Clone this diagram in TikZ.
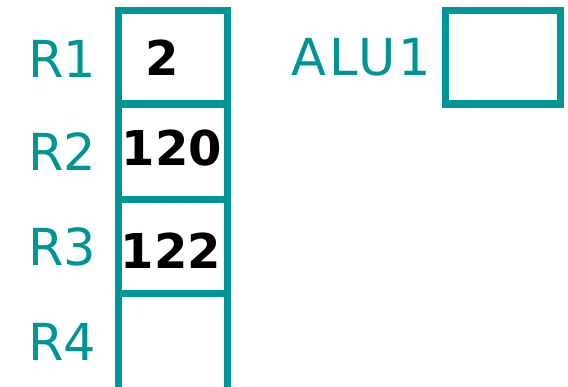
\documentclass[tikz,border=0pt]{standalone}
\usepackage{fontspec}
\setmainfont{DejaVu Sans}
\definecolor{teal1}{RGB}{0,148,148}
\tikzset{
  box/.style={draw=teal1, line width=7.5pt, line join=miter},
  reglabel/.style={anchor=base west, inner sep=0pt, text=teal1, font=\fontsize{51}{51}\selectfont},
  val/.style={anchor=base west, inner sep=0pt, text=black, font=\fontsize{48}{48}\bfseries\selectfont}
}
\begin{document}
\begin{tikzpicture}[x=1pt, y=-1pt]
\useasboundingbox (0,0) rectangle (568,386);
% register column
\draw[box] (118.5,400) -- (118.5,10.5) -- (227.5,10.5) -- (227.5,400);
\draw[box] (118.5,104) -- (227.5,104);
\draw[box] (118.5,199.5) -- (227.5,199.5);
\draw[box] (118.5,293.5) -- (227.5,293.5);
% labels
\node[reglabel] (r1) at (28,77) {R1};
\node[reglabel] (r2) at (28,170) {R2};
\node[reglabel] (r3) at (28,265) {R3};
\node[reglabel] (r4) at (28,360) {R4};
% values
\node[val] (v1) at (145,75) {2};
\node[val] (v2) at (121.5,165) {120};
\node[val] (v3) at (120.5,268) {122};
% ALU
\node[reglabel, font=\fontsize{51}{51}\selectfont\addfontfeatures{LetterSpace=6}] (alu) at (291.5,75) {ALU1};
\draw[box] (445.7,10.3) rectangle (560.5,104);
\end{tikzpicture}
\end{document}
